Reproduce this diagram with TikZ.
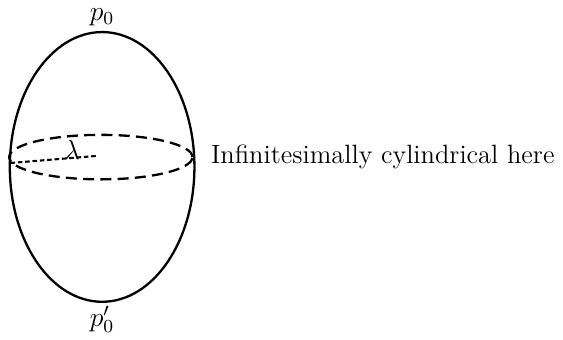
\documentclass[tikz,border=0pt]{standalone}
\usepackage{amsmath,amssymb}
\usepackage{tikz}

\begin{document}
\begin{tikzpicture}[x=1cm,y=1cm,>=stealth,
    every node/.style={font=\fontsize{11.5pt}{14pt}\selectfont, inner sep=0.5pt}]
  \useasboundingbox (0,0) rectangle (8.6,5.18);

  \draw[line width=1pt] (1.56,2.63) ellipse (1.41 and 2.06);
  \draw[line width=1pt, dash pattern=on 4.8pt off 2.7pt] (1.54,2.78) ellipse (1.40 and 0.34);

  \coordinate (rim) at (0.16,2.69);
  \coordinate (mid) at (1.50,2.80);
  \draw[line width=0.9pt, dash pattern=on 2pt off 1.2pt] (rim) -- (mid);

  \node (lam) at (1.10,2.89) {$\lambda$};
  \node (top) at (1.56,4.92) {$p_0$};
  \node (bot) at (1.56,0.30) {$p_0'$};
  \node[anchor=west] (here) at (3.20,2.78) {Infinitesimally cylindrical here};
\end{tikzpicture}
\end{document}
